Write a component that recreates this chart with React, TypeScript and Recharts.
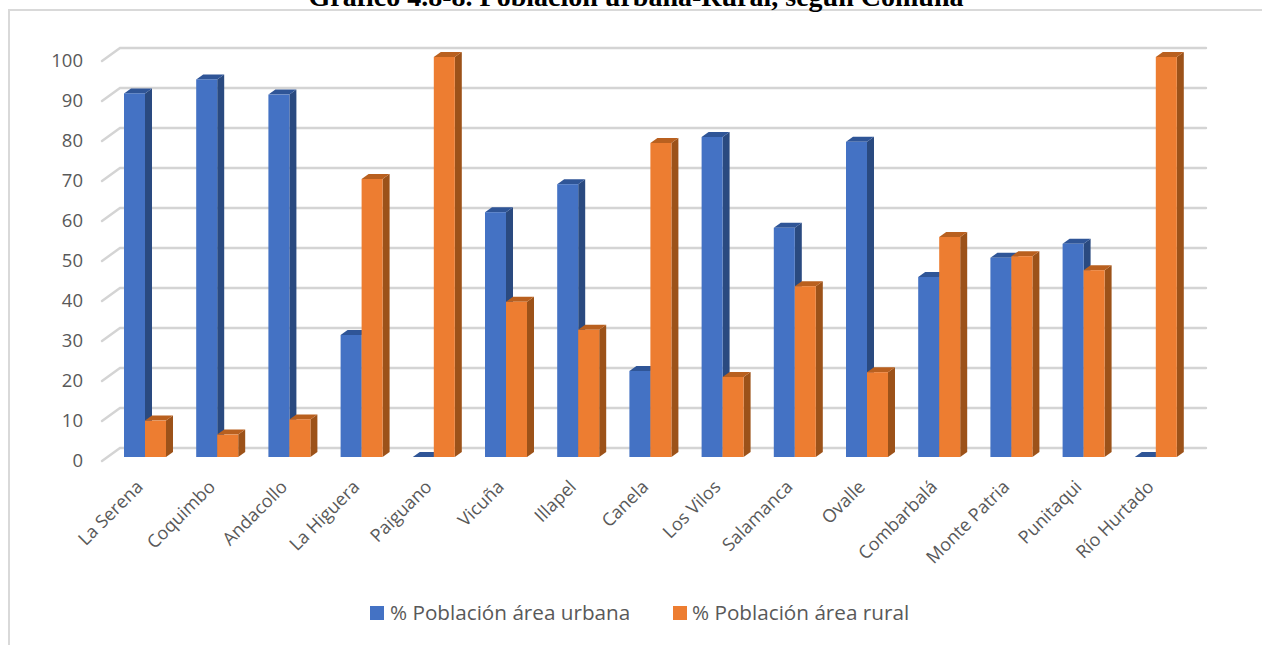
import React from "react";
import { BarChart, Bar, XAxis, YAxis, CartesianGrid, Legend } from "recharts";

const communes = ["La Serena","Coquimbo","Andacollo","La Higuera","Paiguano","Vicuña","Illapel","Canela","Los Vilos","Salamanca","Ovalle","Combarbalá","Monte Patria","Punitaqui","Río Hurtado"];
const urban = [90.9,94.4,90.6,30.5,0,61.2,68.2,21.5,80,57.3,78.8,45,49.8,53.3,0];
const rural = [9.1,5.6,9.4,69.5,100,38.8,31.8,78.5,20,42.7,21.2,55,50.2,46.7,100];
const yTicks = [0,10,20,30,40,50,60,70,80,90,100];
const data = communes.map((name, i) => ({ name, urban: urban[i], rural: rural[i] }));

const box = (colors: string[]) => (p: any) => {
  const { x, y, width, height } = p;
  const dx = 7, dy = 5;
  return (
    <g>
      <polygon points={`${x+width},${y} ${x+width+dx},${y-dy} ${x+width+dx},${y+height-dy} ${x+width},${y+height}`} fill={colors[1]} />
      <polygon points={`${x},${y} ${x+dx},${y-dy} ${x+width+dx},${y-dy} ${x+width},${y}`} fill={colors[2]} />
      <rect x={x} y={y} width={width} height={height} fill={colors[0]} />
    </g>
  );
};

const gridLine = (p: any) => {
  const y = p.y1;
  return (
    <g key={y}>
      <polyline points={`102,${y+4} 120,${y-9} 1206,${y-9}`} fill="none" stroke="#d4d4d4" strokeWidth={2.4} strokeLinecap="round" />
    </g>
  );
};

const XTick = (p: any) => (
  <text x={p.x - 1} y={p.y + 23} textAnchor="end" fontSize={18} fill="#595959" fontFamily="'Open Sans', sans-serif" transform={`rotate(-45 ${p.x - 1} ${p.y + 23})`}>
    {p.payload.value}
  </text>
);

const LegendBody = () => (
  <div style={{ position: "relative", height: 30, fontFamily: "'Open Sans', sans-serif", fontSize: 20.7, color: "#595959", whiteSpace: "nowrap" }}>
    <span style={{ position: "absolute", left: 370, top: 8, width: 14, height: 14, background: "#4472c4" }} />
    <span style={{ position: "absolute", left: 390, top: 0 }}>% Población área urbana</span>
    <span style={{ position: "absolute", left: 673, top: 8, width: 14, height: 14, background: "#ed7d31" }} />
    <span style={{ position: "absolute", left: 692, top: 0 }}>% Población área rural</span>
  </div>
);

export default function App() {
  return (
    <div style={{ position: "absolute", left: 0, top: 0, width: 1262, height: 645, overflow: "hidden", background: "#fff" }}>
      <div style={{ position: "absolute", left: 8, top: 9, width: 1252, height: 660, border: "2px solid #d9d9d9" }} />
      <BarChart
        width={1262}
        height={645}
        data={data}
        barSize={21}
        barGap={0}
        margin={{ top: 57, right: 70, bottom: 157, left: 108 }}
        style={{ position: "absolute", left: 0, top: 0 }}
      >
        <CartesianGrid vertical={false} horizontal={gridLine as any} />
        <XAxis dataKey="name" axisLine={false} tickLine={false} interval={0} tick={XTick as any} height={1} />
        <YAxis domain={[0, 100]} ticks={yTicks} axisLine={false} tickLine={false} width={1} tick={(p: any) => (
          <text x={83} y={p.y + 10} textAnchor="end" fontSize={18.5} fill="#595959" fontFamily="'Open Sans', sans-serif">{p.payload.value}</text>
        )} />
        <Legend content={LegendBody as any} wrapperStyle={{ left: 0, width: 1262, top: 598, bottom: "auto" }} />
        <Bar dataKey="urban" name="% Población área urbana" fill="#4472c4" isAnimationActive={false} shape={box(["#4472c4", "#2a4a80", "#2f5597"])} />
        <Bar dataKey="rural" name="% Población área rural" fill="#ed7d31" isAnimationActive={false} shape={box(["#ed7d31", "#9c5219", "#b9601f"])} />
      </BarChart>
      <div style={{ position: "absolute", left: 0, width: 1272, top: -19, textAlign: "center", fontFamily: "'Liberation Serif', serif", fontWeight: 700, fontSize: 28, lineHeight: "32px", whiteSpace: "nowrap", color: "#000" }}>
        Gráfico 4.8-8. Población urbana-Rural, según Comuna
      </div>
    </div>
  );
}
